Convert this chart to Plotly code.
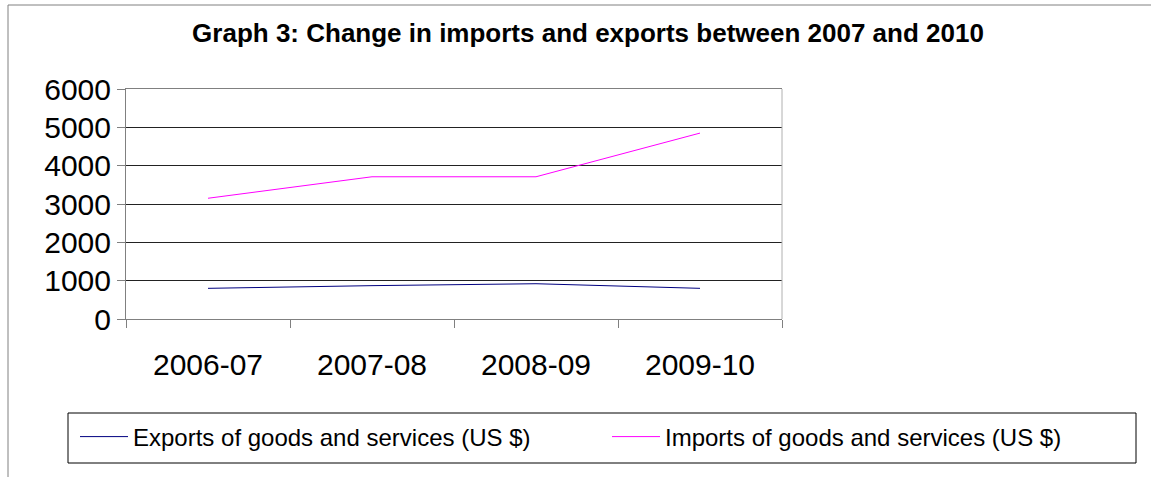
import plotly.graph_objects as go

# Fiscal years and trade values (US $)
years = ["2006-07", "2007-08", "2008-09", "2009-10"]
exports = [800, 870, 920, 800]
imports = [3150, 3710, 3710, 4850]
y_ticks = [0, 1000, 2000, 3000, 4000, 5000, 6000]

W, H = 1151, 477
L, R, T, B = 126, 782, 89, 319  # plot area in pixels
pw, ph = R - L, B - T


def px_x(p):
    return (p - L) / pw


def px_y(p):
    return (B - p) / ph


fig = go.Figure()
fig.add_trace(go.Scatter(x=years, y=exports, mode="lines",
                         name="Exports of goods and services (US $)",
                         line=dict(color="#000080", width=1),
                         legend="legend"))
fig.add_trace(go.Scatter(x=years, y=imports, mode="lines",
                         name="Imports of goods and services (US $)",
                         line=dict(color="#ff00ff", width=1),
                         legend="legend2"))

font = "Liberation Sans, Arial, sans-serif"
legend_common = dict(xanchor="left", yanchor="middle", y=px_y(437),
                     bgcolor="rgba(0,0,0,0)", borderwidth=0, itemwidth=48,
                     font=dict(size=24, family=font, color="black"))

fig.update_layout(
    width=W, height=H,
    margin=dict(l=L, r=W - R, t=T, b=H - B, pad=0),
    paper_bgcolor="white", plot_bgcolor="white",
    font=dict(family=font, color="black"),
    title=dict(text="<b>Graph 3: Change in imports and exports between 2007 and 2010</b>",
               x=588 / W, xanchor="center", xref="container",
               y=1 - 33 / H, yanchor="middle", yref="container",
               font=dict(size=26, family=font, color="black")),
    xaxis=dict(type="category", categoryorder="array", categoryarray=years,
               range=[-0.5, 3.5], tickson="boundaries", ticks="outside",
               ticklen=8, tickcolor="#808080", showgrid=False,
               showline=True, mirror=True, linecolor="#808080", linewidth=1,
               tickfont=dict(size=30, family=font), zeroline=False,
               ticklabelstandoff=19),
    yaxis=dict(range=[0, 6000], tickvals=y_ticks, ticks="outside", ticklen=8,
               tickcolor="#808080", showgrid=True, gridcolor="#222222",
               gridwidth=1, showline=True, linecolor="#808080", linewidth=1,
               zeroline=False, tickfont=dict(size=30, family=font),
               ticklabelstandoff=0),
    showlegend=True,
    legend=dict(x=px_x(75), **legend_common),
    legend2=dict(x=px_x(607), **legend_common),
    shapes=[
        # chart frame (left and top edges)
        dict(type="line", xref="paper", yref="paper",
             x0=px_x(8), x1=px_x(8), y0=px_y(5), y1=px_y(H + 5),
             line=dict(color="#808080", width=1)),
        dict(type="line", xref="paper", yref="paper",
             x0=px_x(8), x1=px_x(W + 5), y0=px_y(5), y1=px_y(5),
             line=dict(color="#808080", width=1)),
        # right edge of plot area
        dict(type="line", xref="paper", yref="paper",
             x0=1, x1=1, y0=0, y1=1,
             line=dict(color="#b0b0b0", width=1)),
        # legend box
        dict(type="rect", xref="paper", yref="paper",
             x0=px_x(68), x1=px_x(1136), y0=px_y(413), y1=px_y(463),
             line=dict(color="#000000", width=1)),
    ],
)

fig.write_html("out.html")
